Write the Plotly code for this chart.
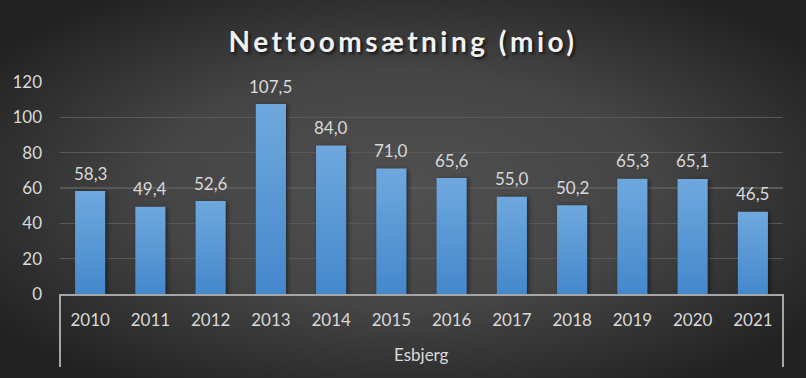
import plotly.graph_objects as go
import base64

years = ["2010", "2011", "2012", "2013", "2014", "2015", "2016", "2017", "2018", "2019", "2020", "2021"]
values = [58.3, 49.4, 52.6, 107.5, 84.0, 71.0, 65.6, 55.0, 50.2, 65.3, 65.1, 46.5]
group_label = "Esbjerg"
title_text = "Nettoomsætning (mio)"

labels = [f"{v:.1f}".replace(".", ",") for v in values]

W, H = 806, 378
ML, MR, MT, MB = 60, 23, 82, 84
PW = W - ML - MR
PH = H - MT - MB
FONT = "Lato, Open Sans, sans-serif"

svg = f"""<svg xmlns='http://www.w3.org/2000/svg' width='{W}' height='{H}' viewBox='0 0 {W} {H}' preserveAspectRatio='none'>
<defs><radialGradient id='g' cx='50%' cy='50%' r='62%' gradientUnits='objectBoundingBox'>
<stop offset='0' stop-color='#505050'/><stop offset='0.5' stop-color='#454545'/><stop offset='1' stop-color='#222222'/></radialGradient></defs>
<rect width='{W}' height='{H}' fill='url(#g)'/></svg>"""
src = "data:image/svg+xml;base64," + base64.b64encode(svg.encode()).decode()

fig = go.Figure()
fig.add_trace(go.Bar(
    x=years, y=values,
    marker=dict(color="#5b9bd8", line=dict(width=0)),
    hoverinfo="skip",
))

# value labels, placed on the category axis by category index
for i, (v, lab) in enumerate(zip(values, labels)):
    fig.add_annotation(x=i, y=v, text=lab, showarrow=False, yanchor="middle", yshift=18,
                       font=dict(family=FONT, size=17, color="#d9d9d9"))

# group bracket below the category axis
for xp in (0, 1):
    fig.add_shape(type="line", xref="paper", yref="paper", x0=xp, x1=xp,
                  y0=0, y1=-73 / PH, line=dict(color="#a6a6a6", width=2))
fig.add_annotation(text=group_label, xref="paper", yref="paper", x=0.5, y=-60 / PH,
                   yanchor="middle", showarrow=False,
                   font=dict(family=FONT, size=17, color="#d9d9d9"))

fig.update_layout(
    width=W, height=H,
    margin=dict(l=ML, r=MR, t=MT, b=MB),
    paper_bgcolor="#333333", plot_bgcolor="rgba(0,0,0,0)",
    showlegend=False,
    title=dict(text=f"<b>{title_text}</b>", x=0.5, xanchor="center", y=1 - 42 / H, yanchor="middle",
               font=dict(family=FONT, size=28, color="#f2f2f2",
                         shadow="2px 2px 3px #151515")),
    images=[dict(source=src, xref="paper", yref="paper",
                 x=-ML / PW, y=1 + MT / PH, sizex=W / PW, sizey=H / PH,
                 xanchor="left", yanchor="top", sizing="stretch", layer="below")],
    xaxis=dict(type="category", automargin=False, showline=True, linecolor="#a6a6a6", linewidth=2,
               tickfont=dict(family=FONT, size=17, color="#d9d9d9"),
               ticks="", showgrid=False, ticklabelstandoff=10,
               range=[-0.5, len(years) - 0.5]),
    yaxis=dict(range=[0, 120], dtick=20, automargin=False, showgrid=True, gridcolor="#595959", gridwidth=1.5,
               zeroline=False, showline=False, ticks="",
               tickfont=dict(family=FONT, size=17, color="#d9d9d9"),
               ticklabelstandoff=17),
    bargap=0.5,
    hovermode=False,
)

post = """
document.body.style.margin = '0';
var gd = document.getElementById('{plot_id}');
function deco() {
  var t = gd.querySelector('.gtitle');
  if (t) { t.style.letterSpacing = '3.5px'; }
  var svg = gd.querySelector('svg.main-svg');
  var defs = svg.querySelector('defs');
  if (!document.getElementById('bargrad')) {
    var ns = 'http://www.w3.org/2000/svg';
    var lg = document.createElementNS(ns, 'linearGradient');
    lg.setAttribute('id', 'bargrad');
    lg.setAttribute('x1', '0'); lg.setAttribute('y1', '0');
    lg.setAttribute('x2', '0'); lg.setAttribute('y2', '1');
    var s1 = document.createElementNS(ns, 'stop');
    s1.setAttribute('offset', '0'); s1.setAttribute('stop-color', '#6fa8de');
    var s2 = document.createElementNS(ns, 'stop');
    s2.setAttribute('offset', '1'); s2.setAttribute('stop-color', '#4488cc');
    lg.appendChild(s1); lg.appendChild(s2); defs.appendChild(lg);
  }
  gd.querySelectorAll('.bars .point path').forEach(function (p) {
    p.style.fill = 'url(#bargrad)';
    p.style.filter = 'drop-shadow(2px 1px 2px rgba(0,0,0,0.45))';
  });
}
deco();
"""

fig.write_html("out.html", post_script=post, config={"displayModeBar": False, "staticPlot": True})
